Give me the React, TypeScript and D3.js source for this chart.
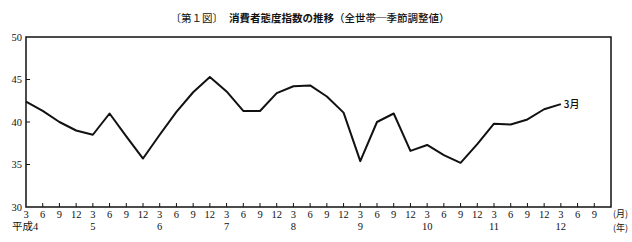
import React from "react";
import * as d3 from "d3";

// Quarterly consumer confidence index, 平成4年3月 .. 平成12年3月
const values: number[] = [
  42.4, 41.3, 40.0, 39.0, 38.5, 41.0, 38.3, 35.7, 38.5, 41.2, 43.5, 45.3,
  43.6, 41.3, 41.3, 43.4, 44.2, 44.3, 43.0, 41.1, 35.4, 40.0, 41.0, 36.6,
  37.3, 36.1, 35.2, 37.4, 39.8, 39.7, 40.3, 41.5, 42.1,
];
const monthLabels: string[] = ["3", "6", "9", "12"];
const yearLabels: string[] = ["平成4", "5", "6", "7", "8", "9", "10", "11", "12"];
const yTicks: number[] = [30, 35, 40, 45, 50];
const tickCount = 35; // labelled quarter ticks (3月 H4 .. 9月 H12)
const title = "〔第１図〕";
const titleBold = "消費者態度指数の推移";
const titleTail = "（全世帯─季節調整値）";
const endLabel = "3月";
const monthUnit = "(月)";
const yearUnit = "(年)";

const W = 632;
const H = 242;
const L = 26, R = 611, T = 37, B = 207;

const serif = "'Liberation Serif', 'Noto Sans CJK JP', serif";
const cjk = "'Noto Sans CJK JP', sans-serif";

export default function App() {
  const x = d3.scaleLinear().domain([0, tickCount]).range([L, R]);
  const y = d3.scaleLinear().domain([30, 50]).range([B, T]);
  const line = d3
    .line<number>()
    .x((_, i) => x(i))
    .y((d) => y(d))
    .curve(d3.curveLinear);
  const ticks = d3.range(tickCount);
  const last = values.length - 1;

  return (
    <svg
      width={W}
      height={H}
      style={{ position: "absolute", left: 0, top: 0, background: "#fff" }}
    >
      <text x={310} y={22} textAnchor="middle" fontFamily={cjk} fontSize={10.5} fill="#111">
        <tspan>{title}</tspan>
        <tspan dx={6} fontWeight="bold">{titleBold}</tspan>
        <tspan fontWeight="500">{titleTail}</tspan>
      </text>

      <rect x={L} y={T} width={R - L} height={B - T} fill="none" stroke="#111" strokeWidth={1.5} />

      {yTicks.map((v) => (
        <g key={v}>
          {v > 30 && v < 50 && (
            <line x1={L} x2={L + 4} y1={y(v)} y2={y(v)} stroke="#111" strokeWidth={1} />
          )}
          <text x={22} y={y(v) + 3.5} textAnchor="end" fontFamily={serif} fontSize={10.5} fill="#111">
            {v}
          </text>
        </g>
      ))}

      {ticks.map((i) => (
        <g key={i}>
          {i > 0 && (
            <line x1={x(i)} x2={x(i)} y1={B} y2={B - 4} stroke="#111" strokeWidth={1} />
          )}
          <text x={x(i)} y={218} textAnchor="middle" fontFamily={serif} fontSize={10.5} fill="#111">
            {monthLabels[i % 4]}
          </text>
        </g>
      ))}

      {yearLabels.map((lab, k) => (
        <text
          key={lab}
          x={k === 0 ? 12 : x(k * 4)}
          y={230}
          textAnchor={k === 0 ? "start" : "middle"}
          fontFamily={serif}
          fontSize={10.5}
          fill="#111"
        >
          {lab}
        </text>
      ))}

      <text x={613} y={217} fontFamily={cjk} fontSize={9} fill="#111">{monthUnit}</text>
      <text x={613} y={231} fontFamily={cjk} fontSize={9} fill="#111">{yearUnit}</text>

      <path d={line(values) ?? ""} fill="none" stroke="#111" strokeWidth={2} strokeLinejoin="round" />
      <text x={x(last) + 3} y={y(values[last]) + 3.5} fontFamily={cjk} fontSize={10} fontWeight="500" fill="#111">
        {endLabel}
      </text>
    </svg>
  );
}
